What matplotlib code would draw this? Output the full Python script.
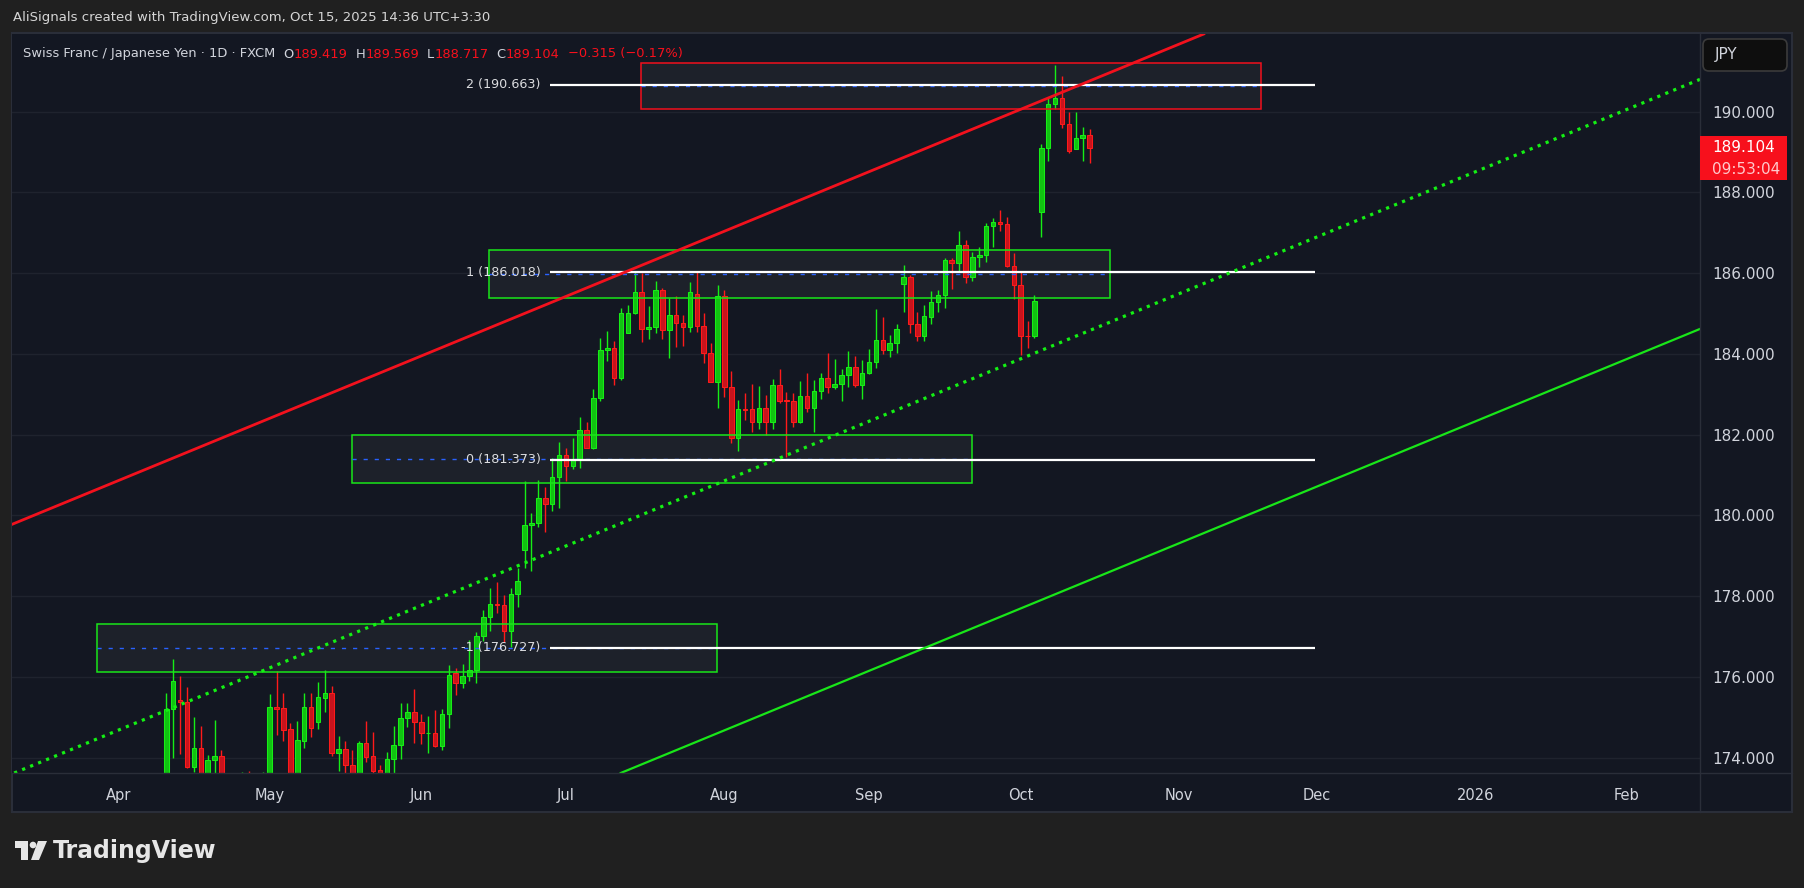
import numpy as np
import pandas as pd
import matplotlib
matplotlib.use("Agg")
import matplotlib.pyplot as plt
import matplotlib.transforms as mtransforms
from matplotlib.patches import Rectangle, FancyBboxPatch, Polygon, Circle
from matplotlib.lines import Line2D
from matplotlib.ticker import FormatStrFormatter


# ---------------------------------------------------------------------------
# Data: CHF/JPY daily candles, 2025-04-10 .. 2025-10-15
# ---------------------------------------------------------------------------
first_date = "2025-04-10"

opens = [
    172.90, 175.20, 175.43, 175.37, 173.78, 174.23, 173.40, 173.93, 174.04, 172.60,
    172.90, 172.50, 173.20, 172.60, 172.40, 173.40, 175.25, 175.22, 174.70, 173.30,
    174.42, 175.25, 174.89, 175.48, 175.59, 174.12, 174.21, 173.82, 173.30, 174.36,
    174.04, 173.69, 173.10, 173.96, 174.31, 174.98, 175.12, 174.89, 174.60, 174.60,
    174.30, 175.07, 176.09, 175.84, 176.02, 176.16, 177.01, 177.49, 177.81, 177.77,
    177.14, 178.05, 179.13, 179.76, 179.80, 180.42, 180.28, 180.94, 181.49, 181.21,
    181.37, 182.11, 181.68, 182.90, 184.09, 184.14, 183.40, 184.51, 185.00, 185.54,
    184.61, 184.67, 185.57, 184.58, 184.96, 184.76, 184.67, 185.48, 184.70, 184.03,
    183.30, 185.44, 183.19, 181.91, 182.63, 182.63, 182.32, 182.65, 182.30, 183.22,
    182.85, 182.83, 182.30, 182.96, 182.65, 183.08, 183.40, 183.19, 183.25, 183.47,
    183.67, 183.24, 183.52, 183.79, 184.34, 184.09, 184.26, 185.72, 185.90, 184.73,
    184.43, 184.92, 185.28, 185.45, 186.32, 186.24, 186.69, 185.90, 186.39, 186.44,
    187.17, 187.26, 187.21, 186.18, 185.70, 184.45, 184.43, 187.50, 189.09, 190.18,
    190.33, 189.69, 189.07, 189.34, 189.419,
]
highs = [
    175.59, 176.44, 176.02, 175.75, 175.00, 174.78, 174.07, 174.93, 174.19, 173.40,
    173.50, 173.65, 173.67, 173.30, 173.65, 175.58, 176.15, 175.60, 174.85, 174.91,
    175.60, 175.60, 175.88, 176.17, 175.77, 174.54, 174.41, 174.19, 174.41, 174.91,
    174.64, 173.82, 174.13, 174.79, 175.35, 175.35, 175.69, 175.07, 175.02, 175.19,
    175.20, 176.29, 176.21, 176.31, 176.91, 177.10, 177.66, 178.19, 178.34, 178.03,
    178.19, 178.69, 180.85, 180.05, 180.88, 180.69, 181.41, 181.81, 181.66, 181.91,
    182.44, 182.30, 183.13, 184.39, 184.57, 184.32, 185.13, 185.21, 186.04, 186.01,
    185.19, 185.81, 185.62, 185.38, 185.43, 184.96, 185.78, 186.04, 185.00, 184.26,
    185.71, 185.58, 183.58, 182.86, 183.02, 183.25, 183.20, 182.98, 183.38, 183.63,
    183.05, 183.02, 183.33, 183.52, 183.35, 183.52, 184.01, 183.87, 183.63, 184.07,
    183.95, 183.85, 184.12, 185.10, 184.91, 184.47, 184.74, 186.20, 185.95, 185.03,
    185.21, 185.56, 185.58, 186.37, 186.37, 187.04, 186.82, 186.53, 186.65, 187.25,
    187.37, 187.56, 187.38, 186.49, 186.04, 184.81, 185.46, 189.19, 190.35, 191.15,
    190.88, 189.98, 189.99, 189.62, 189.569,
]
lows = [
    172.60, 174.00, 174.10, 173.75, 173.65, 173.00, 173.20, 173.40, 172.30, 171.90,
    172.20, 172.10, 172.30, 172.00, 172.00, 173.20, 174.56, 174.41, 173.00, 173.10,
    174.25, 174.52, 174.72, 175.14, 174.05, 173.68, 173.50, 173.00, 173.10, 173.90,
    173.50, 172.90, 172.90, 173.50, 173.97, 174.77, 174.36, 174.33, 174.12, 174.27,
    174.19, 174.74, 175.55, 175.72, 175.90, 175.86, 176.89, 177.14, 177.59, 176.87,
    176.75, 177.74, 178.69, 178.63, 179.70, 179.60, 180.12, 180.19, 180.86, 181.14,
    181.17, 181.66, 181.64, 182.82, 183.83, 183.23, 183.34, 184.51, 184.98, 184.30,
    184.36, 184.52, 184.36, 183.89, 184.16, 184.20, 184.55, 184.55, 183.78, 183.30,
    182.67, 182.94, 181.79, 181.60, 182.35, 182.07, 182.14, 181.99, 182.14, 182.79,
    181.45, 182.20, 182.28, 182.57, 182.07, 182.88, 183.02, 183.12, 182.84, 183.19,
    183.19, 182.89, 183.50, 183.64, 184.00, 183.91, 184.03, 185.04, 184.52, 184.33,
    184.33, 184.74, 185.04, 185.14, 185.60, 186.06, 185.76, 185.80, 186.16, 186.28,
    186.65, 187.05, 186.16, 185.36, 183.97, 184.15, 184.38, 186.90, 188.78, 190.06,
    189.58, 188.98, 189.07, 188.78, 188.717,
]
closes = [
    175.20, 175.90, 175.37, 173.78, 174.23, 173.30, 173.94, 174.04, 172.60, 172.90,
    172.50, 173.30, 172.60, 172.40, 173.40, 175.26, 175.21, 174.69, 173.30, 174.43,
    175.25, 174.74, 175.49, 175.59, 174.12, 174.21, 173.81, 173.30, 174.36, 174.02,
    173.68, 173.10, 173.96, 174.31, 174.98, 175.12, 174.89, 174.60, 174.62, 174.30,
    175.07, 176.04, 175.84, 176.02, 176.16, 177.01, 177.49, 177.80, 177.77, 177.14,
    178.05, 178.38, 179.76, 179.80, 180.42, 180.28, 180.94, 181.49, 181.21, 181.37,
    182.11, 181.68, 182.90, 184.10, 184.14, 183.40, 185.00, 185.00, 185.54, 184.61,
    184.67, 185.57, 184.58, 184.96, 184.76, 184.67, 185.52, 184.70, 184.03, 183.31,
    185.44, 183.19, 181.91, 182.64, 182.61, 182.32, 182.65, 182.30, 183.22, 182.84,
    182.83, 182.30, 182.96, 182.65, 183.08, 183.40, 183.19, 183.25, 183.47, 183.67,
    183.24, 183.52, 183.79, 184.34, 184.09, 184.26, 184.61, 185.90, 184.73, 184.43,
    184.94, 185.28, 185.45, 186.32, 186.24, 186.69, 185.90, 186.39, 186.44, 187.17,
    187.26, 187.21, 186.18, 185.70, 184.43, 184.43, 185.30, 189.09, 190.18, 190.33,
    189.69, 189.03, 189.34, 189.41, 189.104,
]

# fib levels
fib_labels = ["2 (190.663)", "1 (186.018)", "0 (181.373)", "-1 (176.727)"]
fib_prices = [190.663, 186.018, 181.373, 176.727]
fib_start, fib_end = 55.7, 166.7          # bar index

# rectangles around each level (bar index / price)
box_left = [68.9, 46.8, 26.95, -10.0]
box_right = [158.9, 137.0, 116.9, 79.9]
box_top = [191.20, 186.58, 181.98, 177.30]
box_bottom = [190.06, 185.38, 180.79, 176.11]
box_colors = ["#f2101c", "#19e619", "#19e619", "#19e619"]

# parallel channel: price at bar 0 for upper / middle / lower line
chan_upper, chan_mid, chan_lower = 181.35, 175.17, 168.99
chan_slope = 0.0702                        # price per bar

header = "AliSignals created with TradingView.com, Oct 15, 2025 14:36 UTC+3:30"
price_label = "189.104"
countdown = "09:53:04"


# ---------------------------------------------------------------------------
# Style
# ---------------------------------------------------------------------------
W, H = 1804, 888
BG_OUT = "#202020"
BG = "#131722"
BORDER = "#2a2e39"
GRID = "#1f232e"
TXT = "#d1d4dc"
RED = "#f7101c"
UP_EDGE, UP_FACE = "#16ee16", "#11c211"
DN_EDGE, DN_FACE = "#ff1a1a", "#c8131d"

fig = plt.figure(figsize=(W / 100, H / 100), dpi=100, facecolor=BG_OUT)
# pixel coords of the reference (origin top-left)
PX = mtransforms.Affine2D().scale(1 / W, -1 / H).translate(0, 1) + fig.transFigure

fig.add_artist(Rectangle((12, 33), 1780, 779, transform=PX, fc=BG, ec=BORDER,
                         lw=1.5, zorder=-5))

ax = fig.add_axes([12 / W, 1 - 773 / H, 1688 / W, 739 / H])
ax.set_facecolor(BG)
for s in ax.spines.values():
    s.set_visible(False)

# ---------------------------------------------------------------------------
# Candles
# ---------------------------------------------------------------------------
o, h, l, c = (np.array(v) for v in (opens, highs, lows, closes))
x = np.arange(len(c))
up = c >= o
edge = np.where(up, UP_EDGE, DN_EDGE)
face = np.where(up, UP_FACE, DN_FACE)
ax.vlines(x, l, h, colors=edge, lw=1, zorder=3)
ax.bar(x, np.maximum(np.abs(c - o), 0.012), bottom=np.minimum(o, c), width=0.66,
       color=face, edgecolor=edge, linewidth=0.75, zorder=4)

# ---------------------------------------------------------------------------
# Drawings
# ---------------------------------------------------------------------------
for bl, br, bt, bb, bc in zip(box_left, box_right, box_top, box_bottom, box_colors):
    ax.add_patch(Rectangle((bl, bb), br - bl, bt - bb, fc="#1d212a", ec="none", zorder=2))
    ax.add_patch(Rectangle((bl, bb), br - bl, bt - bb, fc="none", ec=bc, lw=1.1, zorder=5))
    ax.hlines((bt + bb) / 2, bl, br, colors="#2962ff", linestyles=(0, (3, 5)),
              lw=1, zorder=5)

ax.hlines(fib_prices, fib_start, fib_end, colors="white", lw=1.6, zorder=6)
for lab, p in zip(fib_labels, fib_prices):
    ax.text(fib_start - 1.4, p, lab, ha="right", va="center", color="#dcdde0",
            fontsize=9.2, zorder=7)

ax.axline((0, chan_upper), slope=chan_slope, color="#f2111d", lw=2.0, zorder=6)
ax.axline((0, chan_mid), slope=chan_slope, color="#14f014", lw=2.3,
          linestyle=(0, (1, 1.7)), zorder=6)
ax.axline((0, chan_lower), slope=chan_slope, color="#19e619", lw=1.6, zorder=6)

# ---------------------------------------------------------------------------
# Axes
# ---------------------------------------------------------------------------
ax.set_xlim(-22.4, 222.6)
ax.set_ylim(173.62, 191.92)

cal = pd.bdate_range("2025-04-01", "2026-02-27")
start = cal.get_loc(pd.Timestamp(first_date))
month_start = np.r_[True, cal.month[1:] != cal.month[:-1]]
tick_pos = np.flatnonzero(month_start) - start
tick_lab = ["2026" if d.month == 1 else d.strftime("%b") for d in cal[month_start]]
ax.set_xticks(tick_pos)
ax.set_xticklabels(tick_lab)
ax.tick_params(axis="x", length=0, pad=10.5, labelsize=10.5, colors=TXT)

ax.set_yticks(np.arange(174, 191, 2))
ax.yaxis.set_major_formatter(FormatStrFormatter("%.3f"))
ax.yaxis.tick_right()
ax.tick_params(axis="y", length=0, pad=8.6, labelsize=11, colors=TXT)
ax.grid(axis="y", color=GRID, lw=1)
ax.set_axisbelow(True)

# pane separators
fig.add_artist(Line2D([1700, 1700], [33, 812], transform=PX, color=BORDER, lw=1))
fig.add_artist(Line2D([12, 1792], [773, 773], transform=PX, color=BORDER, lw=1))

# last price tag
fig.add_artist(Rectangle((1700, 136), 87, 44, transform=PX, fc=RED, ec="none", zorder=6))
fig.text(1744, 147, price_label, transform=PX, ha="center", va="center",
         color="white", fontsize=11, zorder=7)
fig.text(1746, 169, countdown, transform=PX, ha="center", va="center",
         color="#ffc9cc", fontsize=11, zorder=7)

# currency button
fig.add_artist(FancyBboxPatch((1707, 43), 76, 24, boxstyle="round,pad=4,rounding_size=6",
                              transform=PX, fc="#0e0e0e", ec="#3b3b3b", lw=1.2, zorder=6))
fig.text(1715, 55, "JPY", transform=PX, ha="left", va="center", color=TXT,
         fontsize=11, zorder=7)

# ---------------------------------------------------------------------------
# Texts
# ---------------------------------------------------------------------------
fig.text(13, 17, header, transform=PX, va="center", ha="left", color="#d6d6d6",
         fontsize=9.55)

title_parts = [
    ("Swiss Franc / Japanese Yen · 1D · FXCM", TXT, 0),
    ("O", TXT, 5.8), ("189.419", RED, 0),
    ("H", TXT, 5.8), ("189.569", RED, 0),
    ("L", TXT, 5.8), ("188.717", RED, 0),
    ("C", TXT, 5.8), ("189.104", RED, 0),
    ("\u22120.315 (\u22120.17%)", RED, 6.5),
]
prev = fig.text(23, 54, title_parts[0][0], transform=PX, va="center", ha="left",
                color=title_parts[0][1], fontsize=9.4)
for txt, col, gap in title_parts[1:]:
    prev = ax.annotate(txt, xy=(1, 0), xycoords=prev, xytext=(gap, 0),
                       textcoords="offset points", va="bottom", ha="left",
                       color=col, fontsize=9.4, annotation_clip=False)

# TradingView logo
logo_col = "#e6e6e6"
fig.add_artist(Polygon([(15, 841), (28, 841), (28, 860), (21, 860), (21, 848), (15, 848)],
                       closed=True, transform=PX, fc=logo_col, ec="none"))
fig.add_artist(Circle((33, 845), 3.3, transform=PX, fc=logo_col, ec="none"))
fig.add_artist(Polygon([(38, 841), (47, 841), (39, 860), (31, 860)],
                       closed=True, transform=PX, fc=logo_col, ec="none"))
fig.text(53, 851, "TradingView", transform=PX, va="center", ha="left",
         color=logo_col, fontsize=17, fontweight="bold")

fig.savefig("out.png", dpi=100, facecolor=BG_OUT)
